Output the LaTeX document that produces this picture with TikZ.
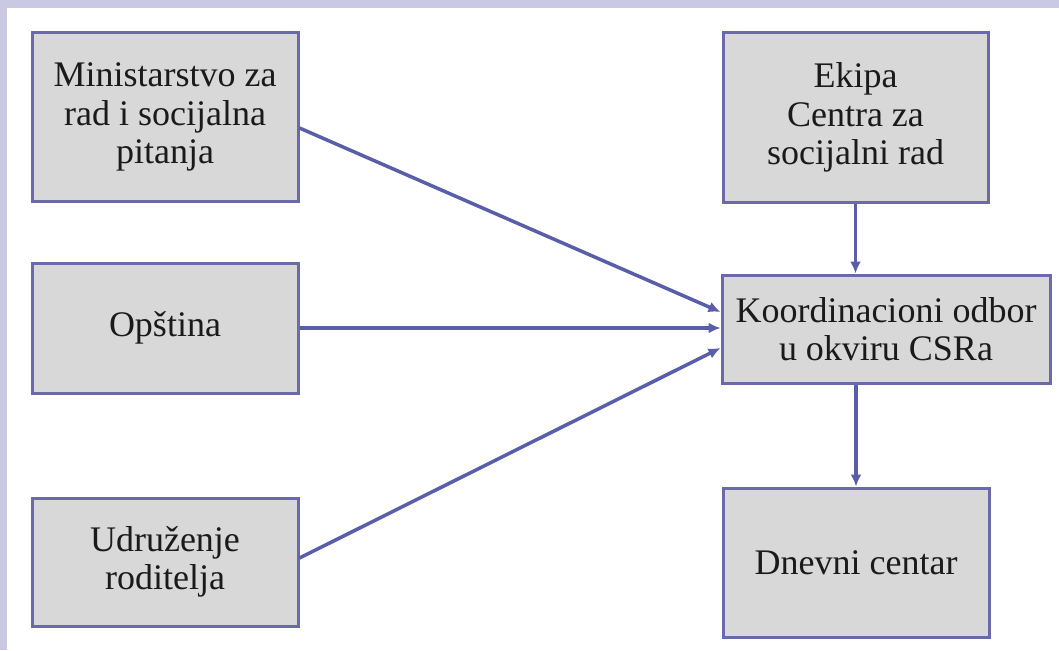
\documentclass[tikz,border=0pt]{standalone}
\usepackage{fontspec}
\setmainfont{Liberation Serif}
\usetikzlibrary{arrows.meta,calc}
\definecolor{bandcol}{HTML}{C9C9E3}
\definecolor{boxfill}{HTML}{D8D8D8}
\definecolor{boxdraw}{HTML}{6A6AAB}
\definecolor{linecol}{HTML}{5A5EA8}
\definecolor{txtcol}{HTML}{1A1A1A}
\tikzset{
  boxnode/.style={draw=boxdraw, fill=boxfill, line width=3pt, rectangle, inner sep=0pt,
    align=center, text=txtcol, font=\fontsize{36}{38.5}\selectfont},
  conn/.style={draw=linecol, line width=3.5pt, -{Latex[length=12pt,width=11pt]}}
}
\begin{document}
\begin{tikzpicture}[x=1pt,y=-1pt]
\useasboundingbox (0,0) rectangle (1059,650);
\fill[bandcol] (0,0) rectangle (1059,650);
\fill[white] (7,8) rectangle (1059,650);
\node[boxnode, minimum width=266pt, minimum height=168pt] (m) at (165,117) {Ministarstvo za\\rad i socijalna\\pitanja};
\node[boxnode, minimum width=266pt, minimum height=130pt] (o) at (165,328) {Opština};
\node[boxnode, minimum width=266pt, minimum height=128pt] (u) at (165,562) {Udruženje\\roditelja};
\node[boxnode, minimum width=265pt, minimum height=169pt] (e) at (855.5,117.5) {Ekipa\\Centra za\\socijalni rad};
\node[boxnode, minimum width=328pt, minimum height=108pt] (k) at (886,329) {Koordinacioni odbor\\u okviru CSRa};
\node[boxnode, minimum width=266pt, minimum height=149pt] (d) at (856,562.5) {Dnevni centar};
\draw[conn] ([yshift=-11pt]m.east) -- ([yshift=17pt]k.west);
\draw[conn] (o.east) -- (o.east -| k.west);
\draw[conn] ([yshift=4pt]u.east) -- ([yshift=-19pt]k.west);
\draw[conn] (e.south) -- (e.south |- k.north);
\draw[conn] (k.south -| d.north) -- (d.north);
\end{tikzpicture}
\end{document}
